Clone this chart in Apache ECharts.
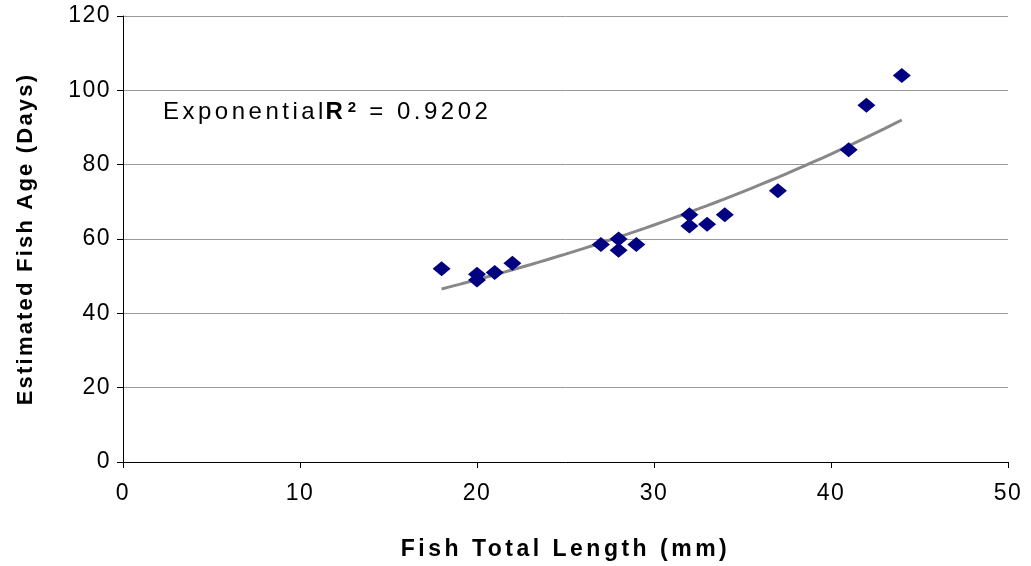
<!DOCTYPE html>
<html>
<head>
<meta charset="utf-8">
<script src="https://cdn.jsdelivr.net/npm/echarts@6/dist/echarts.min.js"></script>
<style>
html,body{margin:0;padding:0;background:#fff;}
#chart{width:1031px;height:566px;}
</style>
</head>
<body>
<div id="chart"></div>
<script>
// Data
const lengths = [18, 20, 20, 21, 22, 27, 28, 28, 29, 32, 32, 33, 34, 37, 41, 42, 44];
const ages    = [52, 50.5, 49, 51, 53.5, 58.5, 60, 57, 58.5, 66.5, 63.5, 64, 66.5, 73, 84, 96, 104];
const xTicks = [0, 10, 20, 30, 40, 50];
const yTicks = [0, 20, 40, 60, 80, 100, 120];
const xTitle = 'Fish Total Length (mm)';
const yTitle = 'Estimated Fish Age (Days)';
const fitLabel = 'Exponential';
const fitR2 = '0.9202';

// Letter spacing emulation (old Excel chart text is widely spaced)
const LS_ANNOT = 3.5;
(function(){
  const proto = CanvasRenderingContext2D.prototype;
  const orig = proto.fillText;
  proto.fillText = function(t, x, y, w){
    const f = this.font || '';
    const bold = /bold/.test(f);
    let ls = 0;
    if (bold && /\b23px/.test(f)) ls = 3.5;       // x axis title
    else if (bold && /\b22px/.test(f)) ls = 2.2;  // y axis title
    else if (/\b24px/.test(f)) ls = LS_ANNOT;     // annotation
    else if (/\b23px/.test(f)) ls = 1.5;          // tick labels
    try { this.letterSpacing = ls + 'px'; } catch(e) {}
    return w === undefined ? orig.call(this, t, x, y) : orig.call(this, t, x, y, w);
  };
})();

// Exponential least-squares trendline fitted from the data
const n = lengths.length;
let sx=0, sy=0, sxx=0, sxy=0;
for (let i=0;i<n;i++){ const ly=Math.log(ages[i]); sx+=lengths[i]; sy+=ly; sxx+=lengths[i]*lengths[i]; sxy+=lengths[i]*ly; }
const b = (n*sxy - sx*sy)/(n*sxx - sx*sx);
const a = Math.exp((sy - b*sx)/n);
const xMin = Math.min(...lengths), xMax = Math.max(...lengths);
const trend = [];
for (let k=0;k<=52;k++){ const x = xMin + (xMax-xMin)*k/52; trend.push([x, a*Math.exp(b*x)]); }

const FONT = '"Liberation Sans", Arial, sans-serif';
const chart = echarts.init(document.getElementById('chart'), null, {renderer:'canvas'});
chart.setOption({
  animation:false,
  backgroundColor:'#fff',
  grid:{left:123, right:23, top:16, bottom:104, containLabel:false},
  xAxis:{
    type:'value', min:xTicks[0], max:xTicks[xTicks.length-1], interval:10,
    name:xTitle, nameLocation:'middle', nameGap:76,
    nameTextStyle:{fontFamily:FONT, fontWeight:'bold', fontSize:23, color:'#000'},
    axisLine:{show:true, onZero:false, lineStyle:{color:'#000', width:1}},
    axisTick:{show:true, length:6, lineStyle:{color:'#000'}},
    axisLabel:{fontFamily:FONT, fontSize:23, color:'#000', margin:20},
    splitLine:{show:false}
  },
  yAxis:{
    type:'value', min:yTicks[0], max:yTicks[yTicks.length-1], interval:20,
    name:yTitle, nameLocation:'middle', nameGap:86, nameRotate:90,
    nameTextStyle:{fontFamily:FONT, fontWeight:'bold', fontSize:22, color:'#000'},
    axisLine:{show:true, onZero:false, lineStyle:{color:'#000', width:1}},
    axisTick:{show:true, length:6, lineStyle:{color:'#000'}},
    axisLabel:{fontFamily:FONT, fontSize:23, color:'#000', margin:12},
    splitLine:{show:true, lineStyle:{color:'#999', width:1}}
  },
  series:[
    {
      type:'line', data:trend, showSymbol:false, symbol:'none', smooth:false,
      lineStyle:{color:'#888', width:3}, z:2, silent:true
    },
    {
      type:'scatter', data:lengths.map((x,i)=>[x, ages[i]]),
      symbol:'diamond', symbolSize:[18,15],
      itemStyle:{color:'#000080', opacity:1}, z:3
    }
  ],
  graphic:[{
    type:'text', left:163, top:100,
    style:{
      rich:{
        n1:{fontFamily:FONT, fontSize:24, lineHeight:34, verticalAlign:'top', color:'#000', padding:[0, LS_ANNOT*10, 0, 0]},
        r:{fontFamily:FONT, fontSize:24, lineHeight:34, verticalAlign:'top', fontWeight:'bold', color:'#000', padding:[0, 5, 0, 2]},
        s:{fontFamily:FONT, fontSize:15, lineHeight:4, fontWeight:'bold', color:'#000', verticalAlign:'top'},
        n2:{fontFamily:FONT, fontSize:24, lineHeight:34, verticalAlign:'top', color:'#000', padding:[0,0,0,3]}
      },
      text:'{n1|' + fitLabel + '}{r|R}{s|2}{n2| = ' + fitR2 + '}'
    }
  }]
});
</script>
</body>
</html>
